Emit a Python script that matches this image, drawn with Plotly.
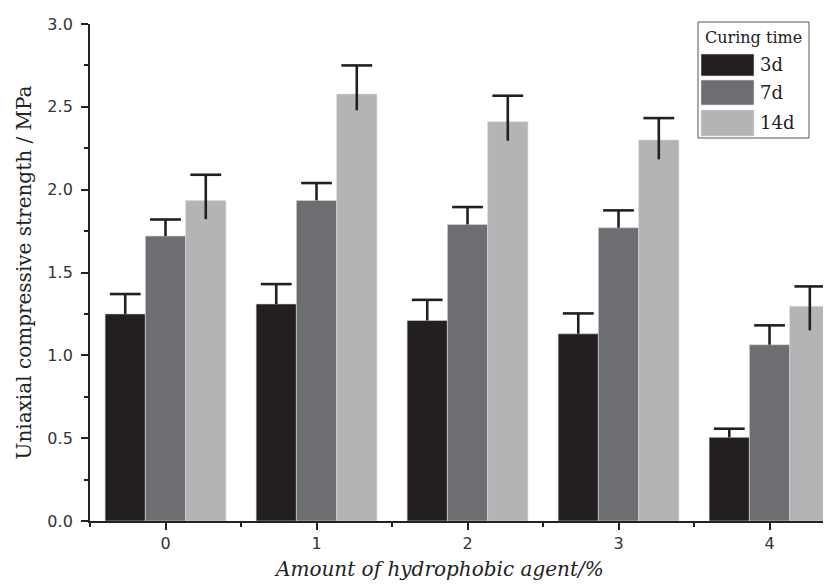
import plotly.graph_objects as go

categories = [0, 1, 2, 3, 4]
tick_labels = ["0", "1", "2", "3", "4"]
series_names = ["3d", "7d", "14d"]
strength_3d = [1.25, 1.31, 1.21, 1.13, 0.505]
strength_7d = [1.72, 1.935, 1.79, 1.77, 1.064]
strength_14d = [1.935, 2.577, 2.41, 2.30, 1.296]
err_3d = [0.12, 0.12, 0.125, 0.123, 0.052]
err_7d = [0.10, 0.105, 0.105, 0.105, 0.117]
err_14d = [0.155, 0.173, 0.157, 0.132, 0.12]
# visible lower part of the 14d error bars (drawn into the bar)
err_14d_low = [0.113, 0.098, 0.115, 0.117, 0.145]

colors = ["#231f20", "#6d6e71", "#b3b4b6"]
ink = "#231f20"

values = [strength_3d, strength_7d, strength_14d]
errs = [err_3d, err_7d, err_14d]
lows = [[0] * 5, [0] * 5, err_14d_low]
groups = ["a", "b", "c"]

fig = go.Figure()
for name, vals, col, g in zip(series_names, values, colors, groups):
    fig.add_trace(go.Bar(
        x=categories, y=vals, name=name, offsetgroup=g, showlegend=False,
        marker=dict(color=col, line=dict(color="#d8d8d8", width=0.6)),
    ))

for vals, e, lo, g in zip(values, errs, lows, groups):
    tops = [v + d for v, d in zip(vals, e)]
    fig.add_trace(go.Scatter(
        x=categories, y=tops, mode="markers", offsetgroup=g, showlegend=False,
        hoverinfo="skip",
        marker=dict(symbol="line-ew", size=22, color=ink, line=dict(color=ink, width=2.6)),
        error_y=dict(type="data", symmetric=False, array=[0] * 5,
                     arrayminus=[d + l for d, l in zip(e, lo)],
                     width=0, thickness=2.6, color=ink),
    ))

serif = "DejaVu Serif, Liberation Serif, serif"
sans = "DejaVu Sans, Liberation Sans, sans-serif"

# plot area in pixels: x 82..831, y 16..513
L, R, T, B = 82, 831, 16, 513


def px(x):
    return (x - L) / (R - L)


def py(y):
    return (B - y) / (B - T)


shapes = [dict(type="rect", xref="paper", yref="paper",
               x0=px(690), x1=px(801), y0=py(130), y1=py(14),
               line=dict(color="#555", width=1), fillcolor="white", layer="above")]
annotations = [
    dict(text="Curing time", xref="paper", yref="paper",
         x=px(745.5), y=py(30), xanchor="center", yanchor="middle",
         showarrow=False, font=dict(family=serif, size=16, color="#222")),
    dict(text="<i>Amount of hydrophobic agent/%</i>", xref="paper", yref="paper",
         x=px(431), y=py(561), xanchor="center", yanchor="middle",
         showarrow=False, font=dict(family=serif, size=20, color="#222")),
]
swatch_rows = [(46, 68), (72, 97), (102, 128)]
for name, col, (y0, y1) in zip(series_names, colors, swatch_rows):
    shapes.append(dict(type="rect", xref="paper", yref="paper",
                       x0=px(693), x1=px(746), y0=py(y1), y1=py(y0),
                       line=dict(color="#dddddd", width=0.6), fillcolor=col, layer="above"))
    annotations.append(dict(text=name, xref="paper", yref="paper",
                            x=px(750), y=py((y0 + y1) / 2), xanchor="left", yanchor="middle",
                            showarrow=False, font=dict(family=serif, size=18, color="#222")))

fig.update_layout(
    width=831, height=586,
    margin=dict(l=L, r=831 - R, t=T, b=586 - B),
    paper_bgcolor="white", plot_bgcolor="white",
    barmode="group", bargap=0.2, bargroupgap=0,
    scattermode="group", scattergap=0.2,
    showlegend=False,
    shapes=shapes, annotations=annotations,
    xaxis=dict(
        range=[-0.5, 4.46], tickvals=categories, ticktext=tick_labels,
        showline=True, linecolor="#222", linewidth=1.8,
        ticks="outside", ticklen=7, tickwidth=1.8, tickcolor="#222",
        minor=dict(dtick=0.5, tick0=0.5, ticks="outside", ticklen=4, tickwidth=1.5, tickcolor="#222"),
        tickfont=dict(family=sans, size=16, color="#333"),
        showgrid=False, zeroline=False,
    ),
    yaxis=dict(
        range=[0, 3.0], dtick=0.5, tickformat=".1f", ticksuffix=" ",
        showline=True, linecolor="#222", linewidth=1.8,
        ticks="outside", ticklen=7, tickwidth=1.8, tickcolor="#222",
        minor=dict(dtick=0.25, ticks="outside", ticklen=4, tickwidth=1.5, tickcolor="#222"),
        tickfont=dict(family=sans, size=16, color="#333"),
        showgrid=False, zeroline=False,
        title=dict(text="Uniaxial compressive strength / MPa",
                   font=dict(family=serif, size=20, color="#222"), standoff=10),
    ),
)

fig.write_html("out.html")
